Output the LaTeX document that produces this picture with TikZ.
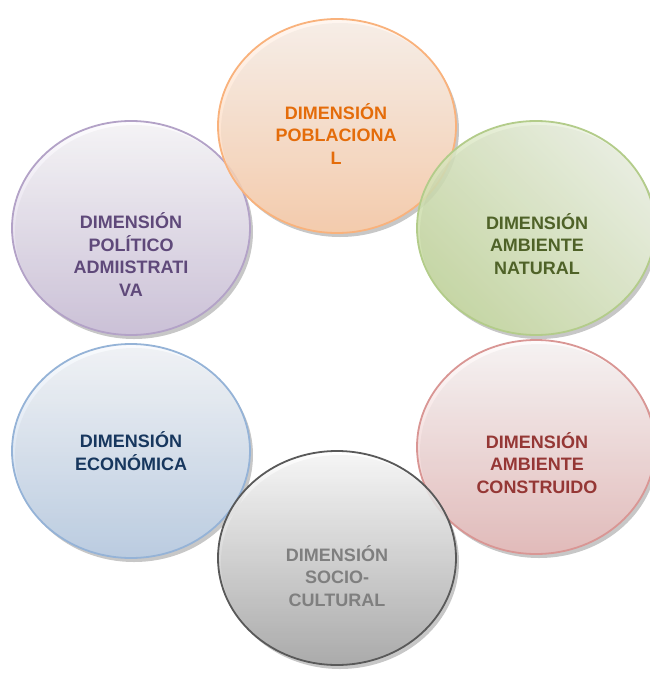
\documentclass[tikz,border=0pt]{standalone}
\usepackage{fontspec}
\setmainfont{Liberation Sans}
\usetikzlibrary{shapes.geometric}
\definecolor{orBd}{HTML}{F9B27C}\definecolor{orT}{HTML}{FFF5EE}\definecolor{orB}{HTML}{FBCCA8}\definecolor{orTx}{HTML}{E46C0A}
\definecolor{grBd}{HTML}{B3CC8A}\definecolor{grT}{HTML}{EEF4E4}\definecolor{grB}{HTML}{C6D9A0}\definecolor{grTx}{HTML}{4F6228}
\definecolor{rdBd}{HTML}{D99694}\definecolor{rdT}{HTML}{FEFBFB}\definecolor{rdB}{HTML}{E6B9B8}\definecolor{rdTx}{HTML}{953735}
\definecolor{gyBd}{HTML}{595959}\definecolor{gyT}{HTML}{FFFFFF}\definecolor{gyB}{HTML}{A6A6A6}\definecolor{gyTx}{HTML}{7F7F7F}
\definecolor{blBd}{HTML}{95B3D7}\definecolor{blT}{HTML}{F8FAFD}\definecolor{blB}{HTML}{B9CDE5}\definecolor{blTx}{HTML}{17375E}
\definecolor{puBd}{HTML}{B3A2C7}\definecolor{puT}{HTML}{FDFCFE}\definecolor{puB}{HTML}{CCC0DA}\definecolor{puTx}{HTML}{5F497A}
\tikzset{
  blob/.style={ellipse, minimum width=238pt, minimum height=214pt, inner sep=0pt, line width=1.8pt, fill opacity=0.85},
  shad/.style={ellipse, minimum width=238pt, minimum height=214pt, inner sep=0pt, fill=black, fill opacity=0.22},
  lbl/.style={anchor=base, align=center, inner sep=0pt, font=\fontsize{18}{22.4}\selectfont\bfseries}
}
\begin{document}
\begin{tikzpicture}[x=1pt,y=-1pt]
\useasboundingbox (0,0) rectangle (650,673);
\clip (0,0) rectangle (650,673);
\fill[white] (0,0) rectangle (650,673);
% purple
\node[shad] (ps) at (134,232) {};
\node[blob, draw=puBd, top color=puT, bottom color=puB] (p) at (131,228) {};
% orange
\node[shad] (os) at (340,130) {};
\node[blob, draw=orBd, top color=orT, bottom color=orB] (o) at (337,126) {};
% green
\node[shad] (gs) at (539,232) {};
\node[blob, draw=grBd, left color=grT, right color=grB, shading angle=-45] (g) at (536,228) {};
% red
\node[shad] (rs) at (539,451) {};
\node[blob, draw=rdBd, top color=rdT, bottom color=rdB] (r) at (536,447) {};
% blue
\node[shad] (bs) at (134,455) {};
\node[blob, draw=blBd, top color=blT, bottom color=blB] (b) at (131,451) {};
% gray
\node[shad] (ss) at (340,562) {};
\node[blob, draw=gyBd, top color=gyT, bottom color=gyB] (s) at (337,558) {};
% labels (base = last line's baseline)
\node[lbl, text=orTx] (ot) at (336,164) {DIMENSIÓN\\POBLACIONA\\L};
\node[lbl, text=grTx] (gt) at (537,274) {DIMENSIÓN\\AMBIENTE\\NATURAL};
\node[lbl, text=rdTx] (rt) at (537,493) {DIMENSIÓN\\AMBIENTE\\CONSTRUIDO};
\node[lbl, text=gyTx] (st) at (337,606) {DIMENSIÓN\\SOCIO-\\CULTURAL};
\node[lbl, text=blTx] (bt) at (131,470) {DIMENSIÓN\\ECONÓMICA};
\node[lbl, text=puTx] (pt) at (131,296) {DIMENSIÓN\\POLÍTICO\\ADMIISTRATI\\VA};
\end{tikzpicture}
\end{document}
